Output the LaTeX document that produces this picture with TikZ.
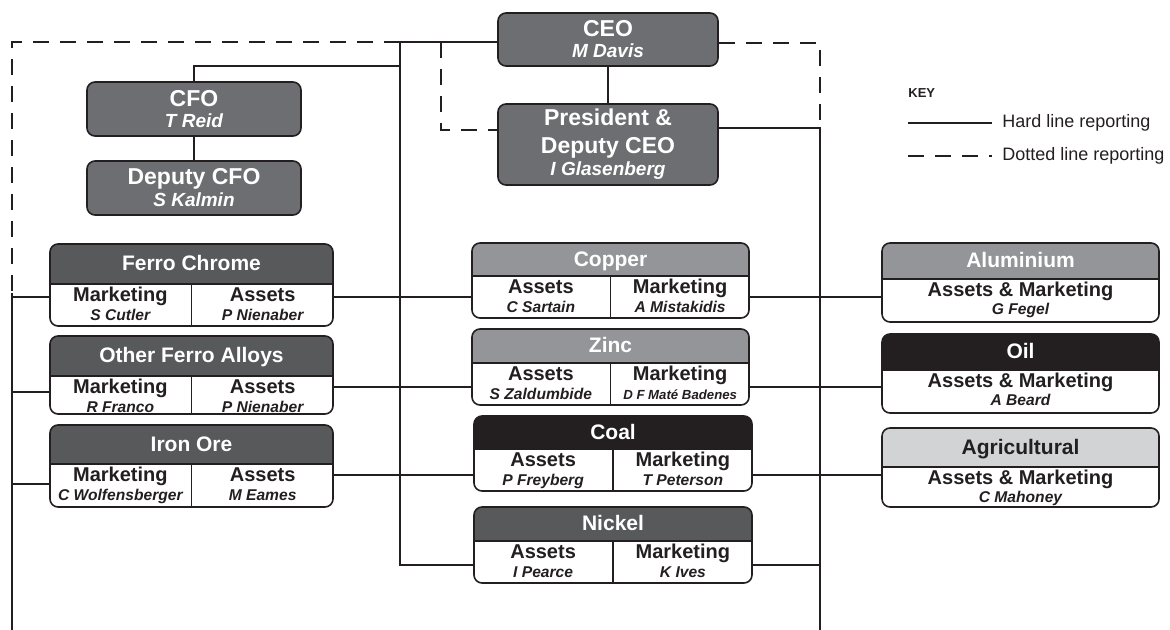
\documentclass[tikz,border=0pt]{standalone}
\usepackage{fontspec}
\setmainfont{Liberation Sans}
\usetikzlibrary{calc,fit}

\definecolor{ink}{HTML}{231F20}
\definecolor{topgray}{HTML}{6D6E71}
\definecolor{darkgray}{HTML}{58595B}
\definecolor{midgray}{HTML}{939598}
\definecolor{palegray}{HTML}{D1D3D4}

\newcommand{\topname}{\fontsize{9.5}{14}\selectfont\itshape}
\newcommand{\namefont}{\fontsize{7.8}{9}\selectfont\bfseries\itshape}

\tikzset{
  hard/.style={draw=ink, line width=0.8pt},
  dotrep/.style={draw=ink, line width=1.2pt, dash pattern=on 8pt off 5.5pt},
  topbox/.style={draw=ink, line width=0.8pt, fill=topgray, rounded corners=4pt, inner sep=0pt},
  toptext/.style={text=white, align=center, inner sep=0pt, font=\fontsize{11.5}{14}\selectfont\bfseries},
  unitbox/.style 2 args={draw=ink, line width=0.8pt, rounded corners=4pt, inner sep=0pt, fill=white,
    path picture={
      \fill[#1, sharp corners] (path picture bounding box.north west) rectangle ([yshift=-#2]path picture bounding box.north east);
      \draw[ink, line width=0.8pt] ([yshift=-#2]path picture bounding box.north west) -- ([yshift=-#2]path picture bounding box.north east);}},
  unittitle/.style={text=white, font=\fontsize{10.5}{12}\selectfont\bfseries,
    text height=7.5pt, text depth=0pt, inner sep=0pt},
  role/.style={text=ink, font=\fontsize{10}{12}\selectfont\bfseries, anchor=base, inner sep=0pt},
  person/.style={text=ink, font=\namefont, anchor=base, inner sep=0pt},
  keytext/.style={text=ink, font=\fontsize{9}{11}\selectfont, anchor=west, inner sep=0pt},
}

% box, header height, title, left role, left person, right role, right person
\newcommand{\twocell}[7]{%
  \draw[hard] ([yshift=-#2]#1.north) -- (#1.south);
  \node[unittitle] (#1-title) at ([yshift=-#2/2]#1.north) {#3};
  \node[role] (#1-lr) at ($(#1.north west)!0.25!(#1.north east)+(0pt,-#2-9pt)$) {#4};
  \node[person] (#1-lp) at ($(#1.north west)!0.25!(#1.north east)+(0pt,-#2-18.5pt)$) {#5};
  \node[role] (#1-rr) at ($(#1.north west)!0.75!(#1.north east)+(0pt,-#2-9pt)$) {#6};
  \node[person] (#1-rp) at ($(#1.north west)!0.75!(#1.north east)+(0pt,-#2-18.5pt)$) {#7};
}
% box, header height, title, person
\newcommand{\onecell}[4]{%
  \node[unittitle] (#1-title) at ([yshift=-#2/2]#1.north) {#3};
  \node[role] (#1-role) at ($(#1.north)+(0pt,-#2-9pt)$) {Assets \& Marketing};
  \node[person] (#1-person) at ($(#1.north)+(0pt,-#2-18pt)$) {#4};
}

\begin{document}
\begin{tikzpicture}[x=0.5pt, y=-0.5pt]
  \useasboundingbox (0,0) rectangle (1170,630);

  % top management
  \node[topbox, fit={(498,13) (718,66)}] (ceo) {};
  \node[toptext] (ceo-text) at (ceo.center) {CEO\\[-3.5pt]{\topname M Davis}};
  \node[topbox, fit={(498,104) (718,185)}] (pres) {};
  \node[toptext] (pres-text) at (pres.center) {President \&\\Deputy CEO\\[-3pt]{\topname I Glasenberg}};
  \node[topbox, fit={(87,82) (301,136)}] (cfo) {};
  \node[toptext] (cfo-text) at (cfo.center) {CFO\\[-3.5pt]{\topname T Reid}};
  \node[topbox, fit={(87,161) (301,215)}] (dcfo) {};
  \node[toptext] (dcfo-text) at (dcfo.center) {Deputy CFO\\[-3pt]{\topname S Kalmin}};

  % business units, left column
  \node[unitbox={darkgray}{20pt}, fit={(50,244) (333,326)}] (ferro) {};
  \twocell{ferro}{20pt}{Ferro Chrome}{Marketing}{S Cutler}{Assets}{P Nienaber}
  \node[unitbox={darkgray}{20pt}, fit={(50,336) (333,414)}] (alloys) {};
  \twocell{alloys}{20pt}{Other Ferro Alloys}{Marketing}{R Franco}{Assets}{P Nienaber}
  \node[unitbox={darkgray}{19.5pt}, fit={(50,425) (333,507)}] (iron) {};
  \twocell{iron}{19.5pt}{Iron Ore}{Marketing}{C Wolfensberger}{Assets}{M Eames}

  % business units, middle column
  \node[unitbox={midgray}{16.5pt}, fit={(472,243) (749,318)}] (copper) {};
  \twocell{copper}{16.5pt}{Copper}{Assets}{C Sartain}{Marketing}{A Mistakidis}
  \node[unitbox={midgray}{17pt}, fit={(472,329) (749,405)}] (zinc) {};
  \twocell{zinc}{17pt}{Zinc}{Assets}{S Zaldumbide}{Marketing}{{\fontsize{6.6}{8}\selectfont D F Maté Badenes}}
  \node[unitbox={ink}{16.5pt}, fit={(474,416) (752,491)}] (coal) {};
  \twocell{coal}{16.5pt}{Coal}{Assets}{P Freyberg}{Marketing}{T Peterson}
  \node[unitbox={darkgray}{17pt}, fit={(474,507) (752,583)}] (nickel) {};
  \twocell{nickel}{17pt}{Nickel}{Assets}{I Pearce}{Marketing}{K Ives}

  % business units, right column
  \node[unitbox={midgray}{18pt}, fit={(882,243) (1159,322)}] (alum) {};
  \onecell{alum}{18pt}{Aluminium}{G Fegel}
  \node[unitbox={ink}{18pt}, fit={(882,334) (1159,413)}] (oil) {};
  \onecell{oil}{18pt}{Oil}{A Beard}
  \node[unitbox={palegray}{19.5pt}, fit={(882,428) (1159,507)}] (agri) {};
  \onecell{agri}{19.5pt}{\textcolor{ink}{Agricultural}}{C Mahoney}

  % junctions
  \coordinate (mtop) at (400,42);
  \coordinate (ltop) at (12,42);
  \coordinate (lmid) at (12,293);
  \coordinate (lbot) at (12,630);
  \coordinate (mbot) at (400,565);
  \coordinate (cfoj) at (400,66);
  \coordinate (pdash) at (441,130);
  \coordinate (rdash) at (820,43);
  \coordinate (rtop) at (820,128);
  \coordinate (rbot) at (820,630);
  \coordinate (r1) at (0,297);
  \coordinate (r2) at (0,387);
  \coordinate (r3) at (0,475);
  \coordinate (l2) at (0,392);
  \coordinate (l3) at (0,484);

  % reporting lines
  \draw[hard] (ceo.west |- mtop) -- (mtop) -- (mbot) -- (nickel.west |- mbot);
  \draw[dotrep] (mtop) -- (ltop) -- (lmid);
  \draw[hard] (lmid) -- (lbot);
  \draw[hard] (cfo.north) |- (cfoj);
  \draw[hard] (cfo) -- (dcfo);
  \draw[hard] (ceo) -- (pres);
  \draw[dotrep] (pdash |- mtop) -- (pdash) -- (pres.west |- pdash);
  \draw[dotrep] (ceo.east |- rdash) -- (rdash) -- (rtop);
  \draw[hard] (pres.east |- rtop) -- (rtop) -- (rbot);
  \draw[hard] (lbot |- r1) -- (ferro.west |- r1);
  \draw[hard] (lbot |- l2) -- (alloys.west |- l2);
  \draw[hard] (lbot |- l3) -- (iron.west |- l3);
  \draw[hard] (ferro.east |- r1) -- (copper.west |- r1);
  \draw[hard] (alloys.east |- r2) -- (zinc.west |- r2);
  \draw[hard] (iron.east |- r3) -- (coal.west |- r3);
  \draw[hard] (copper.east |- r1) -- (alum.west |- r1);
  \draw[hard] (zinc.east |- r2) -- (oil.west |- r2);
  \draw[hard] (coal.east |- r3) -- (agri.west |- r3);
  \draw[hard] (nickel.east |- mbot) -- (rbot |- mbot);

  % key
  \node[text=ink, font=\fontsize{6.5}{8}\selectfont\bfseries, anchor=base west, inner sep=0pt] (key) at (908,98) {KEY};
  \node[keytext] (hardtxt) at (1002,123) {Hard line reporting};
  \node[keytext] (dottxt) at (1002,156) {Dotted line reporting};
  \draw[hard] (key.west |- hardtxt) -- ([xshift=-5pt]hardtxt.west);
  \draw[dotrep] (key.west |- dottxt) -- ([xshift=-5pt]dottxt.west);
\end{tikzpicture}
\end{document}
